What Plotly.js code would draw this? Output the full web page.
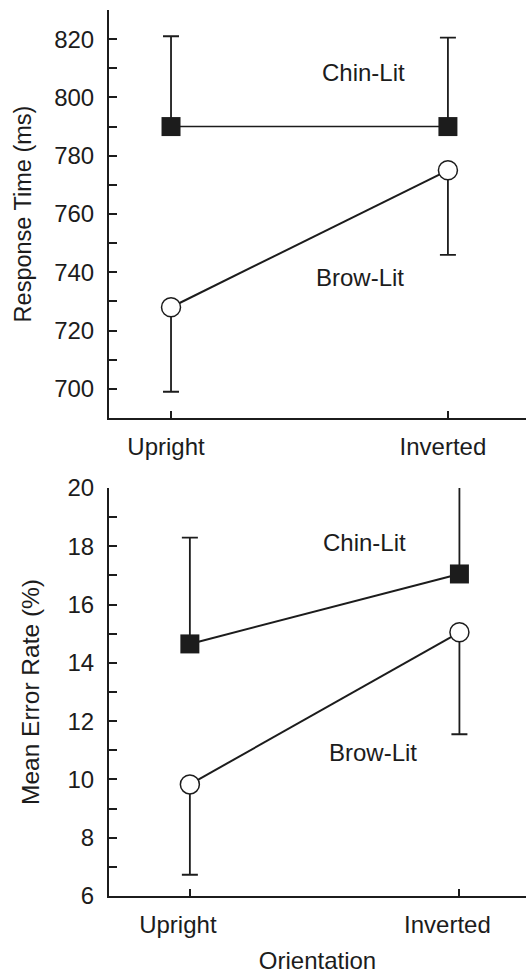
<!DOCTYPE html>
<html>
<head>
<meta charset="utf-8">
<script src="https://cdn.plot.ly/plotly-3.0.1.min.js"></script>
<style>
  html, body { margin: 0; padding: 0; background: #fff; }
  #chart { width: 528px; height: 974px; }
</style>
</head>
<body>
<div id="chart"></div>
<script>
// ---- Data ----
const orientation = ['Upright', 'Inverted'];

// Response time (ms)
const rtChinLit = [790, 790];
const rtChinLitErr = [31, 30.5];      // upward bars
const rtBrowLit = [728, 775];
const rtBrowLitErr = [29, 29];        // downward bars

// Mean error rate (%)
const erChinLit = [14.65, 17.05];
const erChinLitErr = [3.65, 3.0];     // upward bars
const erBrowLit = [9.83, 15.05];
const erBrowLitErr = [3.1, 3.5];      // downward bars

const seriesLabels = ['Chin-Lit', 'Brow-Lit'];
const yTitles = ['Response Time (ms)', 'Mean Error Rate (%)'];
const xTitle = 'Orientation';

// ---- Styling ----
const ink = '#1c1c1c';
const fontFam = '"Liberation Sans", Arial, Helvetica, sans-serif';
const zeros = orientation.map(() => 0);

function chinTrace(y, err, xa, ya, lw) {
  return {
    type: 'scatter', mode: 'lines+markers', name: seriesLabels[0],
    x: orientation, y: y, xaxis: xa, yaxis: ya,
    line: { color: ink, width: lw },
    marker: { symbol: 'square', size: 19, color: ink, line: { width: 0 } },
    error_y: { type: 'data', symmetric: false, array: err, arrayminus: zeros,
               color: ink, thickness: 1.8, width: 8 },
    showlegend: false, cliponaxis: false
  };
}
function browTrace(y, err, xa, ya) {
  return {
    type: 'scatter', mode: 'lines+markers', name: seriesLabels[1],
    x: orientation, y: y, xaxis: xa, yaxis: ya,
    line: { color: ink, width: 2 },
    marker: { symbol: 'circle', size: 19, color: '#ffffff', line: { color: ink, width: 1.5 } },
    error_y: { type: 'data', symmetric: false, array: zeros, arrayminus: err,
               color: ink, thickness: 1.8, width: 8 },
    showlegend: false, cliponaxis: false
  };
}

const traces = [
  chinTrace(rtChinLit, rtChinLitErr, 'x', 'y', 1.5),
  browTrace(rtBrowLit, rtBrowLitErr, 'x', 'y'),
  chinTrace(erChinLit, erChinLitErr, 'x2', 'y2', 2),
  browTrace(erBrowLit, erBrowLitErr, 'x2', 'y2')
];

function xAxis(range, anchor, shift, title) {
  const ax = {
    anchor: anchor, type: 'category', range: range,
    showline: true, linecolor: ink, linewidth: 2,
    ticks: 'inside', ticklen: 7, tickwidth: 2, tickcolor: ink,
    showgrid: false, zeroline: false,
    tickfont: { family: fontFam, size: 24, color: ink },
    ticklabelstandoff: 6, ticklabelshift: shift
  };
  if (title) {
    ax.title = { text: title, font: { family: fontFam, size: 24, color: ink }, standoff: 15 };
  }
  return ax;
}
function yAxis(domain, anchor, range, dtick, minorDtick, title, tsize, standoff) {
  return {
    domain: domain, anchor: anchor, range: range,
    tick0: 0, dtick: dtick,
    showline: true, linecolor: ink, linewidth: 2,
    ticks: 'inside', ticklen: 8, tickwidth: 2, tickcolor: ink,
    minor: { dtick: minorDtick, ticks: 'inside', ticklen: 8, tickwidth: 2, tickcolor: ink, showgrid: false },
    showgrid: false, zeroline: false,
    tickfont: { family: fontFam, size: 24, color: ink },
    ticklabelstandoff: 8,
    title: { text: title, font: { family: fontFam, size: tsize, color: ink }, standoff: standoff }
  };
}

const layout = {
  width: 528, height: 974,
  margin: { l: 109, r: 2, t: 10, b: 78 },
  paper_bgcolor: '#ffffff', plot_bgcolor: '#ffffff',
  font: { family: fontFam, color: ink },
  xaxis: xAxis([-0.224, 1.282], 'y', -5, null),
  yaxis: yAxis([0.5395, 1], 'x', [690, 830], 20, 10, yTitles[0], 23.5, 16),
  xaxis2: xAxis([-0.30, 1.247], 'y2', -12, xTitle),
  yaxis2: yAxis([0, 0.4605], 'x2', [6, 20], 2, 1, yTitles[1], 24.5, 21),
  annotations: [
    { xref: 'x', yref: 'y', x: 0.695, y: 808.6, text: seriesLabels[0], showarrow: false,
      font: { family: fontFam, size: 24, color: ink } },
    { xref: 'x', yref: 'y', x: 0.684, y: 738.3, text: seriesLabels[1], showarrow: false,
      font: { family: fontFam, size: 24, color: ink } },
    { xref: 'x2', yref: 'y2', x: 0.648, y: 18.14, text: seriesLabels[0], showarrow: false,
      font: { family: fontFam, size: 24, color: ink } },
    { xref: 'x2', yref: 'y2', x: 0.681, y: 10.93, text: seriesLabels[1], showarrow: false,
      font: { family: fontFam, size: 24, color: ink } }
  ]
};

Plotly.newPlot('chart', traces, layout, { staticPlot: true, displayModeBar: false });
</script>
</body>
</html>
